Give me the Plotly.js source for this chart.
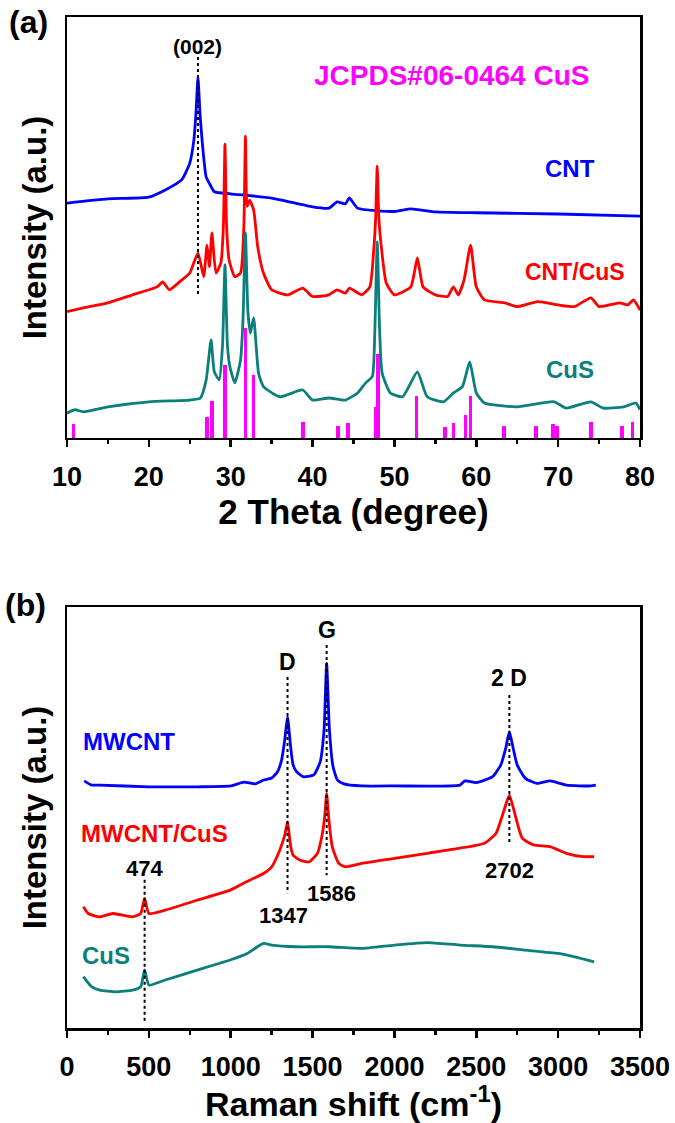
<!DOCTYPE html>
<html><head><meta charset="utf-8">
<script src="https://cdn.plot.ly/plotly-3.0.1.min.js"></script>
<style>html,body{margin:0;padding:0;background:#fff}#chart{width:675px;height:1123px}</style>
</head><body><div id="chart"></div>
<script>
// ---------- Panel (a): XRD ----------
const cntX = [10,15,20,22,24,25,25.5,25.75,26,26.25,26.5,27,27.5,28,30,35,40,42,43,44,44.5,45.5,50,52,55,60,70,80];
const cntY = [55.8,56.8,57.2,58.9,61.3,65.3,70.8,77,85.7,77,70.8,62.0,60.1,58.5,58.0,57.0,54.9,54.6,56.1,55.6,57.0,54.6,53.8,54.4,53.7,53.5,53.2,52.7];

const cntCusX = [10,12,15,18,21,21.7,22.5,24,25,26,26.7,27.1,27.4,27.7,28.2,28.8,29.1,29.3,29.5,29.8,30.5,31.2,31.6,31.8,32.0,32.3,32.8,33.3,34,35,37,38.8,40,42,43,44,44.5,46,47,47.5,47.7,47.9,48.1,48.4,49,50,52,52.8,53.5,55,56.5,57.2,57.8,58.5,59.3,60,61,63.5,65,67.5,70,72,74,75,77.5,78.5,79.2,80];
const cntCusY = [30.0,30.9,32.1,34.0,35.9,37.1,35.2,37.5,39.2,43.9,38.3,45.8,40.7,48.7,39.2,41.6,50,69.8,50,42.3,38.3,39.2,50,71.7,55,56.5,54.2,45.4,39.2,35.2,34.0,35.6,33.6,34.0,35.2,34.4,35.6,34.0,35.9,45.4,52,64.6,52,45.4,36.8,34.0,35.9,42.8,35.9,34.0,33.6,35.9,34.0,37.5,45.8,35.9,32.8,32.1,31.2,32.4,31.6,31.2,33.3,31.2,32.1,31.6,32.8,30.4];

const cusX = [10,11,12,15,20,25,26.3,27,27.6,28.0,28.6,29.0,29.3,29.6,29.9,30.5,31.2,31.5,31.8,32.1,32.4,32.8,33.4,34,36,38.8,40,42,44,45.5,46.5,47.3,47.6,47.9,48.2,48.5,49.5,51,52.8,54,56,57.2,58.3,59.2,60,61,65,69.5,71,74,75.5,78,79.5,80];
const cusY = [5.9,6.7,6.2,7.4,8.6,9.0,9.5,13.8,23.3,15.7,13.8,22,41.1,22,16.9,13.1,18.5,28,48.7,30,24.9,28.5,15.4,12.2,9.8,11.4,9.0,9.5,9.0,10.7,13.1,14.6,25,46.6,25,15.4,10.7,9.8,15.7,9.8,8.6,10.7,12.2,18.1,10.7,8.3,7.4,8.6,7.1,8.6,7.1,7.4,8.3,6.7];

const jcpdsX = [10.8,27.1,27.7,29.3,31.8,32.8,38.8,43.1,44.3,47.7,48.0,52.7,56.2,57.2,58.7,59.3,63.4,67.3,69.4,69.9,74.0,77.8,79.1];
const jcpdsH = [3.3,4.9,8.9,17.3,26.1,15.0,3.9,2.9,3.5,7.4,20.0,10.0,2.5,3.5,5.5,10.0,2.9,2.9,3.3,2.9,3.9,2.9,3.9];

const xrdGuideX = [26];
const xrdGuideTop = [90.5];
const xrdGuideBottom = [34.0];

// ---------- Panel (b): Raman ----------
const mwX = [105,150,200,500,800,1000,1080,1150,1200,1250,1285,1311,1330,1347,1365,1381,1402,1442,1507,1547,1570,1586,1603,1625,1652,1691,1800,2000,2400,2430,2500,2600,2650,2680,2702,2725,2750,2800,2870,2950,3050,3200,3230];
const mwY = [58.7,57.7,57.7,57.3,57.3,57.5,58.4,58.0,58.9,59.4,60.8,63.7,68.4,73.9,67.2,62.5,60.9,59.7,60.1,63.3,70.8,86.6,70.8,62.1,58.9,58.0,57.5,57.5,57.7,58.7,58.3,59.7,62.5,66.5,70.4,66.5,62.5,59.3,58.1,58.7,57.7,57.5,57.7];

const mwCusX = [100,130,200,280,400,450,474,500,600,800,1000,1100,1200,1250,1300,1330,1347,1365,1380,1420,1480,1530,1560,1575,1586,1600,1620,1660,1700,1800,2000,2200,2400,2550,2620,2670,2702,2740,2780,2850,2950,3050,3150,3220];
const mwCusY = [28.8,27.2,26.4,27.2,26.4,27.2,30.8,27.2,28.0,30.4,32.8,34.8,36.7,38.3,42.3,45.8,49.0,43.5,41.1,39.9,39.5,41.5,46.2,50.6,55.7,49.4,43.1,39.1,38.3,39.1,40.3,41.5,42.7,43.9,46.2,51.8,55.3,50.2,45.1,43.5,43.1,41.5,40.7,40.7];

const ramanCusX = [100,150,200,300,400,450,474,500,600,800,1000,1100,1200,1250,1400,1600,1800,2000,2200,2400,2600,2800,3000,3100,3220];
const ramanCusY = [12.2,9.8,9.0,8.6,9.0,9.8,13.8,10.2,11.4,13.8,16.2,17.7,20.1,19.7,19.3,19.3,18.9,19.7,20.3,19.7,19.3,18.5,17.7,16.9,15.7];

const ramanGuideX = [474,1347,1586,2702];
const ramanGuideTop = [35.2,83.4,91.0,79.1];
const ramanGuideBottom = [1.5,32.0,36.3,43.5];

const xrdTickVals = [10,20,30,40,50,60,70,80];
const ramanTickVals = [0,500,1000,1500,2000,2500,3000,3500];

// ---------- styling ----------
const BLUE = '#0000ff', RED = '#ff0000', TEAL = '#0b7f7c', MAG = '#ff00ff';
const ARIAL = 'Arial, "Liberation Sans", sans-serif';

function guideTrace(xs, tops, bottoms, xa, ya) {
  const gx = [], gy = [];
  xs.forEach((v, i) => { gx.push(v, v, null); gy.push(tops[i], bottoms[i], null); });
  return {x: gx, y: gy, xaxis: xa, yaxis: ya, mode: 'lines', type: 'scatter',
          line: {color: '#000', width: 2, dash: 'dot'}, hoverinfo: 'skip', showlegend: false};
}
function curve(x, y, color, xa, ya) {
  return {x, y, xaxis: xa, yaxis: ya, type: 'scatter', mode: 'lines',
          line: {color, width: 2.8, shape: 'spline', smoothing: 0.5}, showlegend: false};
}

const traces = [
  {x: jcpdsX, y: jcpdsH, type: 'bar', width: 0.45, marker: {color: MAG, line: {width: 0}}, xaxis: 'x', yaxis: 'y', showlegend: false},
  curve(cntX, cntY, BLUE, 'x', 'y'),
  curve(cntCusX, cntCusY, RED, 'x', 'y'),
  curve(cusX, cusY, TEAL, 'x', 'y'),
  guideTrace(xrdGuideX, xrdGuideTop, xrdGuideBottom, 'x', 'y'),
  curve(mwX, mwY, BLUE, 'x2', 'y2'),
  curve(mwCusX, mwCusY, RED, 'x2', 'y2'),
  curve(ramanCusX, ramanCusY, TEAL, 'x2', 'y2'),
  guideTrace(ramanGuideX, ramanGuideTop, ramanGuideBottom, 'x2', 'y2')
];

function xAxis(range, tickvals, minorDtick, anchor, title, titleSize) {
  return {range, tickvals, ticktext: tickvals.map(v => '<b>' + v + '</b>'), anchor, domain: [0, 1],
    ticks: 'outside', ticklen: 7, tickwidth: 2.5, tickcolor: '#000',
    ticklabelstandoff: 6,
    minor: {dtick: minorDtick, ticks: 'outside', ticklen: 4, tickwidth: 2.5, tickcolor: '#000'},
    showline: true, linewidth: 2.5, linecolor: '#000', mirror: true,
    showgrid: false, zeroline: false,
    tickfont: {family: ARIAL, size: 27, color: '#000'},
    title: {text: '<b>' + title + '</b>', font: {family: ARIAL, size: titleSize, color: '#000'}, standoff: 0}};
}
function yAxis(domain, anchor) {
  return {domain, anchor, range: [0, 100], showticklabels: false, ticks: '',
    showline: true, linewidth: 2.5, linecolor: '#000', mirror: true,
    showgrid: false, zeroline: false,
    title: {text: '<b>Intensity (a.u.)</b>', font: {family: ARIAL, size: 33, color: '#000'}, standoff: 8}};
}

function ann(text, x, y, xref, yref, color, size) {
  return {text: '<b>' + text + '</b>', x, y, xref, yref, showarrow: false, xanchor: 'center', yanchor: 'middle',
          font: {family: ARIAL, size, color}};
}

const annotations = [
  ann('(a)', -0.068, 0.995, 'paper', 'paper', '#000', 32),
  ann('(b)', -0.072, 0.418, 'paper', 'paper', '#000', 32),
  ann('(002)', 26, 92.9, 'x', 'y', '#000', 21),
  ann('JCPDS#06-0464 CuS', 57, 86.0, 'x', 'y', MAG, 28),
  ann('CNT', 71.5, 64.1, 'x', 'y', BLUE, 24),
  ann('CNT/CuS', 72.1, 39.5, 'x', 'y', RED, 23),
  ann('CuS', 71.5, 16.2, 'x', 'y', TEAL, 24),
  ann('D', 1347, 87.0, 'x2', 'y2', '#000', 23),
  ann('G', 1586, 94.5, 'x2', 'y2', '#000', 23),
  ann('2 D', 2702, 83.1, 'x2', 'y2', '#000', 23),
  ann('474', 474, 37.9, 'x2', 'y2', '#000', 22),
  ann('1347', 1324, 26.8, 'x2', 'y2', '#000', 22),
  ann('1586', 1617, 32.0, 'x2', 'y2', '#000', 22),
  ann('2702', 2700, 37.5, 'x2', 'y2', '#000', 22),
  ann('MWCNT', 380, 68.0, 'x2', 'y2', BLUE, 24),
  ann('MWCNT/CuS', 537, 46.2, 'x2', 'y2', RED, 24),
  ann('CuS', 236, 17.3, 'x2', 'y2', TEAL, 24)
];

const layout = {
  width: 675, height: 1123,
  margin: {l: 67, r: 35, t: 17, b: 95},
  paper_bgcolor: '#fff', plot_bgcolor: '#fff',
  showlegend: false, bargap: 0,
  xaxis: xAxis([10, 80], xrdTickVals, 5, 'y', '2 Theta (degree)', 35),
  yaxis: yAxis([0.5836, 1], 'x'),
  xaxis2: xAxis([0, 3500], ramanTickVals, 250, 'y2', 'Raman shift (cm<sup>-1</sup>)', 34),
  yaxis2: yAxis([0, 0.4164], 'x2'),
  annotations
};

Plotly.newPlot('chart', traces, layout, {staticPlot: true, displayModeBar: false});
</script></body></html>
